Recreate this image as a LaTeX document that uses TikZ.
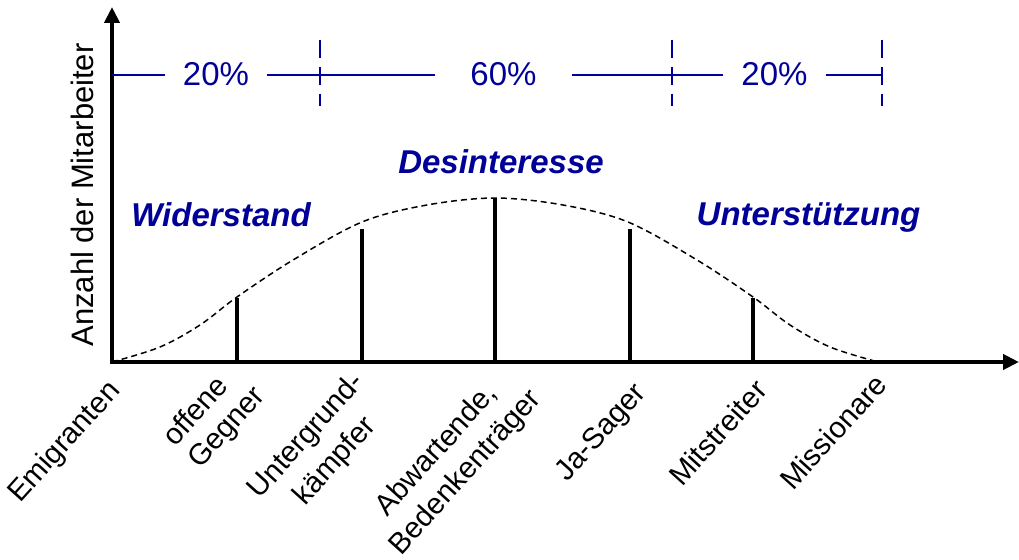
\documentclass[tikz,border=0pt]{standalone}
\usepackage{fontspec}
\setmainfont{Liberation Sans}
\usetikzlibrary{arrows.meta}
\definecolor{dblue}{RGB}{0,0,153}
\begin{document}
\begin{tikzpicture}[x=1pt,y=-1pt,
  axis/.style={line width=4pt,-{Triangle[length=16pt,width=15pt]}},
  bar/.style={line width=3.5pt},
  curve/.style={line width=1.5pt,dash pattern=on 6pt off 4pt},
  pline/.style={dblue,line width=2.5pt},
  ptick/.style={dblue,line width=2.5pt,dash pattern=on 18pt off 9pt},
  pct/.style={text=dblue,font=\fontsize{33}{40}\selectfont,anchor=base,inner ysep=0pt},
  ttl/.style={text=dblue,font=\fontsize{33}{40}\selectfont\bfseries\itshape,anchor=base,inner sep=0pt},
  cat/.style={font=\fontsize{29.5}{35}\selectfont,rotate=48,inner sep=0pt},
]
\useasboundingbox (0,0) rectangle (1019,559);

% axes
\coordinate (O) at (112,362);
\coordinate (ytop) at (112,7);
\coordinate (xend) at (1019,362);
\coordinate (Ox) at (110,362);
\draw[axis] (O) -- (ytop);
\draw[axis] (Ox) -- (xend);

% y-axis label
\node[font=\fontsize{31}{37}\selectfont,rotate=90,anchor=base,inner sep=0pt] (ylab) at (93,195) {Anzahl der Mitarbeiter};

% curve
\draw[curve] plot[smooth,tension=0.55] coordinates {(112,362) (160,347) (200,325) (237,297) (293,260) (362,222) (427,205) (495,198) (563,205) (628,222) (697,260) (753,297) (790,325) (830,347) (878,362)};

% bars
\coordinate (b1) at (237,362); \coordinate (b1t) at (237,298);
\coordinate (b2) at (362,362); \coordinate (b2t) at (362,229);
\coordinate (b3) at (495,362); \coordinate (b3t) at (495,198);
\coordinate (b4) at (630,362); \coordinate (b4t) at (630,229);
\coordinate (b5) at (753,362); \coordinate (b5t) at (753,298);
\draw[bar] (b1) -- (b1t);
\draw[bar] (b2) -- (b2t);
\draw[bar] (b3) -- (b3t);
\draw[bar] (b4) -- (b4t);
\draw[bar] (b5) -- (b5t);

% percentage row
\coordinate (a0) at (112,75);
\coordinate (t1) at (320,75);
\coordinate (t2) at (672,75);
\coordinate (t3) at (882,75);
\node[pct,inner xsep=18pt] (p1) at (216,86) {20\%};
\node[pct,inner xsep=35pt] (p2) at (503.5,86) {60\%};
\node[pct,inner xsep=18pt] (p3) at (774.5,86) {20\%};
\draw[pline] (a0) -- (p1.west |- a0);
\draw[pline] (p1.east |- a0) -- (t1) -- (p2.west |- a0);
\draw[pline] (p2.east |- a0) -- (t2) -- (p3.west |- a0);
\draw[pline] (p3.east |- a0) -- (t3);
\coordinate (t1a) at (320,40); \coordinate (t1b) at (320,106);
\coordinate (t2a) at (672,40); \coordinate (t2b) at (672,106);
\coordinate (t3a) at (882,40); \coordinate (t3b) at (882,106);
\draw[ptick] (t1a) -- (t1b);
\draw[ptick] (t2a) -- (t2b);
\draw[ptick] (t3a) -- (t3b);

% titles
\node[ttl] (wid) at (221,226) {Widerstand};
\node[ttl] (des) at (501,173) {Desinteresse};
\node[ttl] (unt) at (808.5,225) {Unterstützung};

% category labels
\node[cat,anchor=base west] (c1) at (20,504) {Emigranten};
\node[cat,anchor=base west] (c2a) at (175,448) {offene};
\node[cat,anchor=base west] (c2b) at (200,470) {Gegner};
\node[cat,anchor=base] (c3a) at (312.6,441.5) {Untergrund-};
\node[cat,anchor=base] (c3b) at (341,466.5) {kämpfer};
\node[cat,anchor=base] (c4a) at (443,456) {Abwartende,};
\node[cat,anchor=base] (c4b) at (472,478) {Bedenkenträger};
\node[cat,anchor=base west] (c5) at (567,483) {Ja-Sager};
\node[cat,anchor=base west] (c6) at (682,488) {Mitstreiter};
\node[cat,anchor=base west] (c7) at (793,492) {Missionare};
\end{tikzpicture}
\end{document}
